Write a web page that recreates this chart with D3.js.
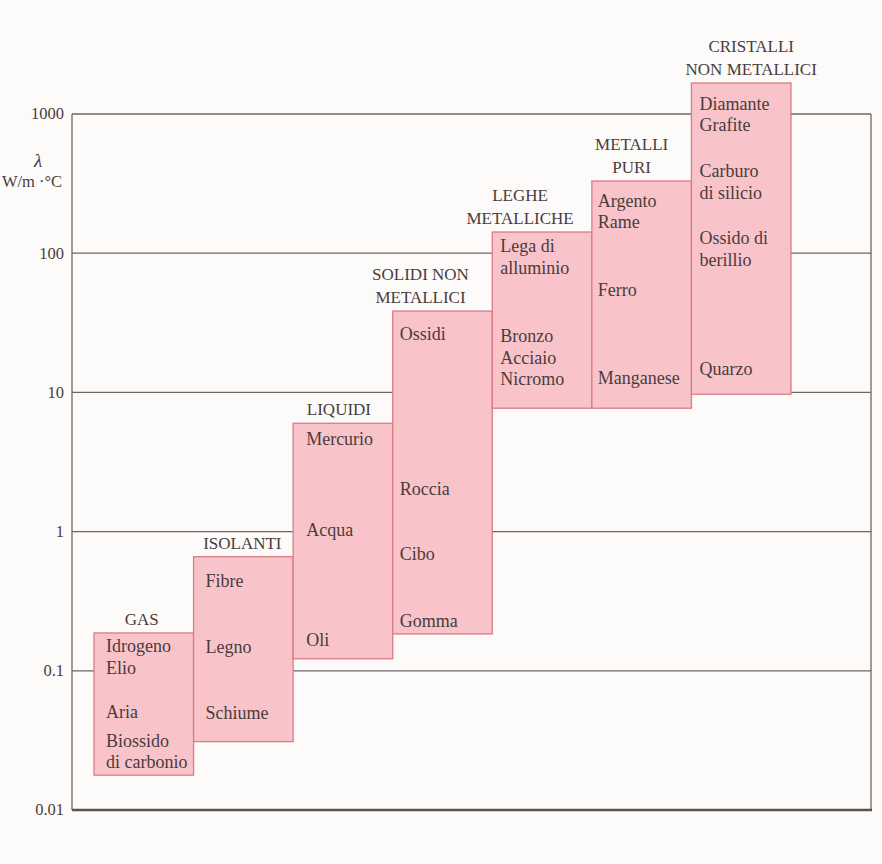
<!DOCTYPE html>
<html>
<head>
<meta charset="utf-8">
<script src="https://cdn.jsdelivr.net/npm/d3@7"></script>
<style>
  html, body { margin: 0; padding: 0; background: #fcfbf9; }
  svg { display: block; }
  text { font-family: "Liberation Serif", "Times New Roman", serif; fill: #4a3c3c; }
</style>
</head>
<body>
<svg id="chart" width="882" height="864"></svg>
<script>
// ---- data ----
const categories = ["GAS", "ISOLANTI", "LIQUIDI", "SOLIDI NON METALLICI",
  "LEGHE METALLICHE", "METALLI PURI", "CRISTALLI NON METALLICI"];
const categoryLabelLines = [["GAS"], ["ISOLANTI"], ["LIQUIDI"], ["SOLIDI NON", "METALLICI"],
  ["LEGHE", "METALLICHE"], ["METALLI", "PURI"], ["CRISTALLI", "NON METALLICI"]];
const lowValues  = [0.0178, 0.031, 0.122, 0.184, 7.7, 7.7, 9.7];
const highValues = [0.187, 0.66, 6.0, 38.4, 142, 330, 1670];
const tickValues = [0.01, 0.1, 1, 10, 100, 1000];
const tickLabels = ["0.01", "0.1", "1", "10", "100", "1000"];
// materials: category index, text lines, conductivity at which the first line sits
const materialCategory = [0, 0, 0, 1, 1, 1, 2, 2, 2, 3, 3, 3, 3, 4, 4, 5, 5, 5, 6, 6, 6, 6];
const materialLines = [
  ["Idrogeno", "Elio"], ["Aria"], ["Biossido", "di carbonio"],
  ["Fibre"], ["Legno"], ["Schiume"],
  ["Mercurio"], ["Acqua"], ["Oli"],
  ["Ossidi"], ["Roccia"], ["Cibo"], ["Gomma"],
  ["Lega di", "alluminio"], ["Bronzo", "Acciaio", "Nicromo"],
  ["Argento", "Rame"], ["Ferro"], ["Manganese"],
  ["Diamante", "Grafite"], ["Carburo", "di silicio"], ["Ossido di", "berillio"], ["Quarzo"]
];
const materialValues = [0.136, 0.0458, 0.0284,
  0.40, 0.134, 0.045,
  4.19, 0.93, 0.151,
  23.8, 1.83, 0.625, 0.206,
  102, 23,
  215, 49.3, 11.5,
  1070, 352, 116, 13.3];

// ---- layout ----
const svg = d3.select("#chart");
const frame = { left: 72, right: 871, top: 114, bottom: 810 };
const y = d3.scaleLog().domain([0.01, 1000]).range([frame.bottom, frame.top]);
const x = d3.scaleBand().domain(categories).range([94, 791]).padding(0);

// gridlines
svg.append("g").selectAll("line").data(tickValues.slice(1)).join("line")
  .attr("x1", frame.left).attr("x2", frame.right)
  .attr("y1", d => y(d)).attr("y2", d => y(d))
  .attr("stroke", "#6e6662").attr("stroke-width", 1.3);
// frame sides
svg.append("line").attr("x1", frame.left).attr("x2", frame.left)
  .attr("y1", frame.top).attr("y2", frame.bottom)
  .attr("stroke", "#6e6662").attr("stroke-width", 1.3);
svg.append("line").attr("x1", frame.right).attr("x2", frame.right)
  .attr("y1", frame.top).attr("y2", frame.bottom)
  .attr("stroke", "#6e6662").attr("stroke-width", 1.3);
svg.append("line").attr("x1", frame.left).attr("x2", frame.right + 1)
  .attr("y1", frame.bottom).attr("y2", frame.bottom)
  .attr("stroke", "#5a5350").attr("stroke-width", 2.4);

// tick labels
const yAxis = d3.axisLeft(y).tickValues(tickValues)
  .tickFormat((d, i) => tickLabels[i]).tickSize(0).tickPadding(8);
const ag = svg.append("g").attr("transform", `translate(${frame.left},0)`).call(yAxis);
ag.select(".domain").remove();
ag.selectAll("text").style("font-family", "Liberation Serif, serif")
  .style("font-size", "16.5px").attr("fill", "#4a3c3c").attr("dy", "0.3em");

// axis title
svg.append("text").attr("x", 38).attr("y", 167).attr("text-anchor", "middle")
  .style("font-style", "italic").style("font-size", "19px").text("λ");
svg.append("text").attr("x", 32).attr("y", 187).attr("text-anchor", "middle")
  .style("font-size", "16.5px").text("W/m ·°C");

// boxes
svg.append("g").selectAll("rect").data(categories).join("rect")
  .attr("x", d => x(d))
  .attr("width", x.bandwidth())
  .attr("y", (d, i) => y(highValues[i]))
  .attr("height", (d, i) => y(lowValues[i]) - y(highValues[i]))
  .attr("fill", "#f8c4c9").attr("stroke", "#dc7a86").attr("stroke-width", 1.3);

// category labels
const labelShift = [-2, -1, -4, -22, -22, -10, 10];
categoryLabelLines.forEach((lines, i) => {
  const cx = x(categories[i]) + x.bandwidth() / 2 + labelShift[i];
  const baseY = y(highValues[i]) - 8 - (lines.length - 1) * 23;
  const t = svg.append("text").attr("text-anchor", "middle")
    .attr("x", cx).attr("y", baseY).style("font-size", "17px");
  lines.forEach((ln, j) => {
    t.append("tspan").attr("x", cx).attr("dy", j === 0 ? 0 : 23).text(ln);
  });
});

// material labels
const textPad = [12, 12, 13, 7, 8, 6, 8];
materialLines.forEach((lines, k) => {
  const c = materialCategory[k];
  const tx = x(categories[c]) + textPad[c];
  const t = svg.append("text").attr("x", tx).attr("y", y(materialValues[k]))
    .style("font-size", "18px");
  lines.forEach((ln, j) => {
    t.append("tspan").attr("x", tx).attr("dy", j === 0 ? 0 : 21.5).text(ln);
  });
});
</script>
</body>
</html>
